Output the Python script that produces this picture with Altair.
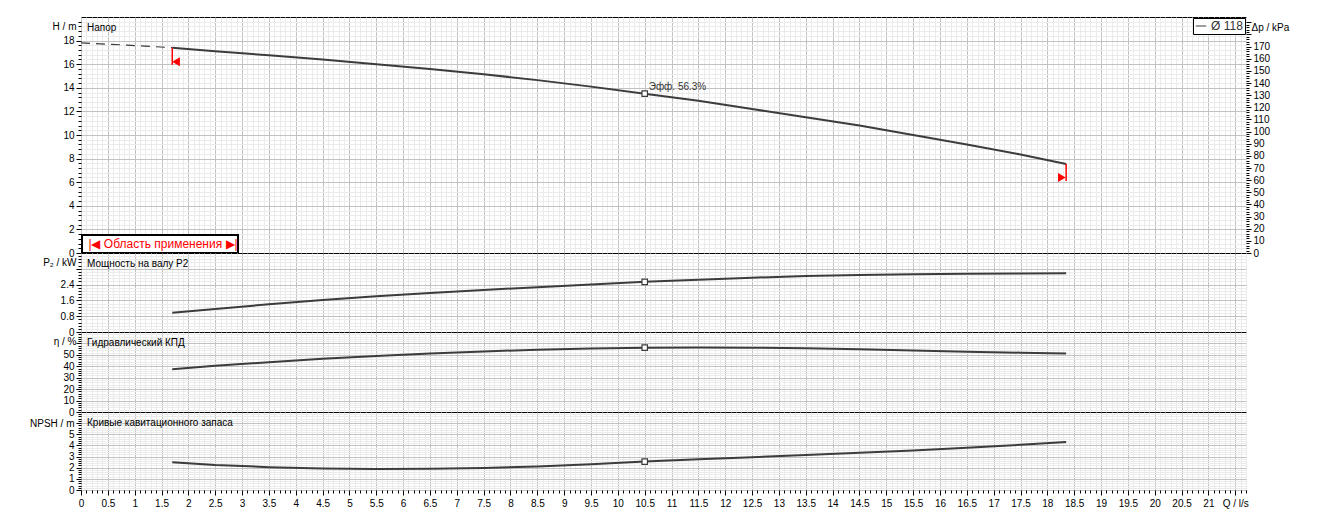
import altair as alt
import pandas as pd

FONT = "Liberation Sans"
LINE = "#3c3c3c"
RED = "#ff0000"
MAJOR_GRID = "#c2c2c2"
MINOR_GRID = "#ebebeb"

# ---------------- data ----------------
q = [1.7, 2.5, 3.5, 4.5, 5.5, 6.5, 7.5, 8.5, 9.5, 10.5, 11.5, 12.5, 13.5, 14.5, 15.5, 16.5, 17.5, 18.35]
head = [17.4, 17.1, 16.75, 16.4, 16.0, 15.6, 15.15, 14.65, 14.1, 13.5, 12.9, 12.2, 11.5, 10.8, 10.0, 9.2, 8.35, 7.55]
power = [0.98, 1.17, 1.4, 1.62, 1.81, 1.97, 2.13, 2.27, 2.41, 2.54, 2.65, 2.75, 2.83, 2.88, 2.92, 2.95, 2.96, 2.97]
eff = [37.5, 40.5, 43.5, 46.5, 49.0, 51.2, 53.0, 54.5, 55.6, 56.3, 56.5, 56.3, 55.7, 54.8, 53.8, 52.8, 51.9, 51.2]
npsh = [2.5, 2.25, 2.05, 1.92, 1.88, 1.9, 1.98, 2.1, 2.3, 2.55, 2.75, 2.95, 3.15, 3.35, 3.55, 3.8, 4.05, 4.3]

q_ext = [0.0, 0.85, 1.7]          # dashed extension of the head curve
head_ext = [17.8, 17.62, 17.4]

q_op = [10.5]                      # duty point
head_op = [13.5]
power_op = [2.54]
eff_op = [56.3]
npsh_op = [2.55]
eff_text = ["Эфф. 56.3%"]

lim_q = [1.7, 18.35]               # limits of the application range
lim_top = [17.4, 7.55]
lim_bottom = [15.95, 6.1]
arrow_q = [1.77, 18.27]
arrow_h = [16.2, 6.4]
arrow_dir = ["min", "max"]

curve_name = ["Ø 118"]
panel_titles = ["Напор", "Мощность на валу P2", "Гидравлический КПД", "Кривые кавитационного запаса"]
range_label = ["|◀ Область применения ▶|"]
KPA_PER_M = 9.72

# ---------------- tables ----------------
df_head = pd.DataFrame({"Q": q, "H": head, "curve": curve_name * len(q)})
df_ext = pd.DataFrame({"Q": q_ext, "H": head_ext})
df_pow = pd.DataFrame({"Q": q, "P": power})
df_eff = pd.DataFrame({"Q": q, "E": eff})
df_npsh = pd.DataFrame({"Q": q, "N": npsh})
df_op = pd.DataFrame({"Q": q_op, "H": head_op, "P": power_op, "E": eff_op, "N": npsh_op, "t": eff_text})
df_lim = pd.DataFrame({"Q": lim_q, "top": lim_top, "bottom": lim_bottom})
df_arrow = pd.DataFrame({"Q": arrow_q, "H": arrow_h, "dir": arrow_dir})

W = 1165
XMAX = 21.7
x_vals = [round(i * 0.1, 1) for i in range(0, 218)]
X_MAJOR = "abs(datum.value * 2 - round(datum.value * 2)) < 0.001"


def xaxis(show):
    return alt.Axis(
        values=x_vals, title=None, grid=True,
        gridColor={"condition": {"test": X_MAJOR, "value": MAJOR_GRID}, "value": MINOR_GRID},
        gridWidth=1, domain=False, ticks=show, labels=show,
        tickColor="black", tickWidth=1,
        tickSize={"condition": {"test": X_MAJOR, "value": 5}, "value": 3},
        labelExpr=f"abs(datum.value - 21.5) < 0.001 ? 'Q / l/s' : (({X_MAJOR}) ? format(datum.value, '~g') : '')",
        labelFont=FONT, labelFontSize=10, labelColor="black", labelPadding=3,
        labelOverlap=False, labelFlush=False, labelBound=False,
    )


def yaxis(step, top, major_step, max_label, title_val, title_text, orient="left", grid=True):
    n = int(round(top / step))
    vals = [round(i * step, 4) for i in range(n)]          # the top border itself gets no tick
    major = f"abs(datum.value / {major_step} - round(datum.value / {major_step})) < 0.001"
    expr = (f"abs(datum.value - {title_val}) < 0.001 ? '{title_text}' : "
            f"((({major}) && datum.value <= {max_label} + 0.001) ? format(datum.value, '~g') : '')")
    return alt.Axis(
        values=vals, orient=orient, title=None, grid=grid,
        gridColor={"condition": {"test": major, "value": MAJOR_GRID}, "value": MINOR_GRID},
        gridWidth=1, domain=False, tickColor="black", tickWidth=1,
        tickSize={"condition": {"test": major, "value": 5}, "value": 3},
        labelExpr=expr, labelFont=FONT, labelFontSize=10, labelColor="black", labelPadding=2,
        labelOverlap=False, labelFlush=False, labelBound=False,
    )


XS = alt.Scale(domain=[0, XMAX], nice=False, zero=False)


def X(show=False):
    return alt.X("Q:Q", scale=XS, axis=xaxis(show))


def title_text(txt):
    return alt.Chart(pd.DataFrame({"t": [txt]})).mark_text(
        align="left", baseline="middle", font=FONT, fontSize=10, color="black"
    ).encode(x=alt.value(6), y=alt.value(11), text="t:N")


def marker(df, yenc, show=False):
    return alt.Chart(df).mark_point(shape="square", size=30, filled=True, fill="white",
                                    stroke=LINE, strokeWidth=1.2, opacity=1).encode(x=X(show), y=yenc)


# ---------------- head panel ----------------
HS = alt.Scale(domain=[0, 20], nice=False, zero=False)
HAX = yaxis(0.4, 20, 2, 18, 19.2, "H / m")


def YH(field="H"):
    return alt.Y(f"{field}:Q", scale=HS, axis=HAX)


head_line = alt.Chart(df_head).mark_line(strokeWidth=2).encode(
    x=X(), y=YH(),
    color=alt.Color("curve:N", scale=alt.Scale(range=[LINE]),
                    legend=alt.Legend(title=None, orient="top-right", offset=1, strokeColor="black",
                                      fillColor="white", padding=2, symbolType="stroke", symbolSize=110,
                                      symbolStrokeWidth=1, labelFont=FONT, labelFontSize=12,
                                      labelColor="#333333", cornerRadius=0)),
)
ext_line = alt.Chart(df_ext).mark_line(strokeWidth=1.2, strokeDash=[9, 6], color=LINE).encode(x=X(), y=YH())
lim_rules = alt.Chart(df_lim).mark_rule(color=RED, strokeWidth=1.5).encode(x=X(), y=YH("top"), y2="bottom:Q")
arrows = alt.Chart(df_arrow).mark_point(filled=True, color=RED, size=80, opacity=1).encode(
    x=X(), y=YH(),
    shape=alt.Shape("dir:N", scale=alt.Scale(domain=["min", "max"], range=["triangle-left", "triangle-right"]),
                    legend=None))
op_head = marker(df_op, YH())
op_text = alt.Chart(df_op).mark_text(align="left", baseline="middle", dx=4, dy=-7, font=FONT,
                                     fontSize=10, color="#333333").encode(x=X(), y=YH(), text="t:N")
range_box = alt.Chart(pd.DataFrame({"t": range_label})).mark_rect(
    fill="white", stroke="black", strokeWidth=2).encode(
    x=alt.value(1), x2=alt.value(157), y=alt.value(218), y2=alt.value(236))
range_text = alt.Chart(pd.DataFrame({"t": range_label})).mark_text(
    align="center", baseline="middle", font=FONT, fontSize=12, color=RED).encode(
    x=alt.value(82), y=alt.value(227), text="t:N")

right_axis = alt.Chart(df_head).transform_calculate(dp=f"datum.H * {KPA_PER_M}").mark_line(opacity=0).encode(
    x=X(),
    y=alt.Y("dp:Q", scale=alt.Scale(domain=[0, 20 * KPA_PER_M], nice=False, zero=False),
            axis=yaxis(2, 192, 10, 170, 186, "Δp / kPa", orient="right", grid=False)),
)

head_panel = alt.layer(
    alt.layer(head_line, ext_line, lim_rules, arrows, op_head, op_text, title_text(panel_titles[0]),
              range_box, range_text),
    right_axis,
).resolve_scale(y="independent").properties(width=W, height=236)


def simple_panel(df, field, scale, axis, title, height, show_x=False):
    yenc = alt.Y(f"{field}:Q", scale=scale, axis=axis)
    return alt.layer(
        alt.Chart(df).mark_line(strokeWidth=2, color=LINE).encode(x=X(show_x), y=yenc),
        marker(df_op, yenc, show_x),
        title_text(title),
    ).properties(width=W, height=height)


pow_panel = simple_panel(df_pow, "P", alt.Scale(domain=[0, 4], nice=False, zero=False),
                         yaxis(0.16, 4, 0.8, 2.4, 3.52, "P₂ / kW"), panel_titles[1], 79)
eff_panel = simple_panel(df_eff, "E", alt.Scale(domain=[0, 70], nice=False, zero=False),
                         yaxis(2, 70, 10, 50, 62, "η / %"), panel_titles[2], 80)
npsh_panel = simple_panel(df_npsh, "N", alt.Scale(domain=[0, 7], nice=False, zero=False),
                          yaxis(0.2, 7, 1, 5, 6, "NPSH / m"), panel_titles[3], 78, show_x=True)

chart = alt.vconcat(head_panel, pow_panel, eff_panel, npsh_panel, spacing=0, bounds="flush").resolve_scale(
    color="independent").resolve_legend(color="independent").properties(
    padding={"left": 21, "top": 8, "right": 5, "bottom": 5}, background="white"
).configure(font=FONT).configure_view(stroke="black", strokeWidth=1)

chart.save("out.html", embed_options={"renderer": "svg", "actions": False})
